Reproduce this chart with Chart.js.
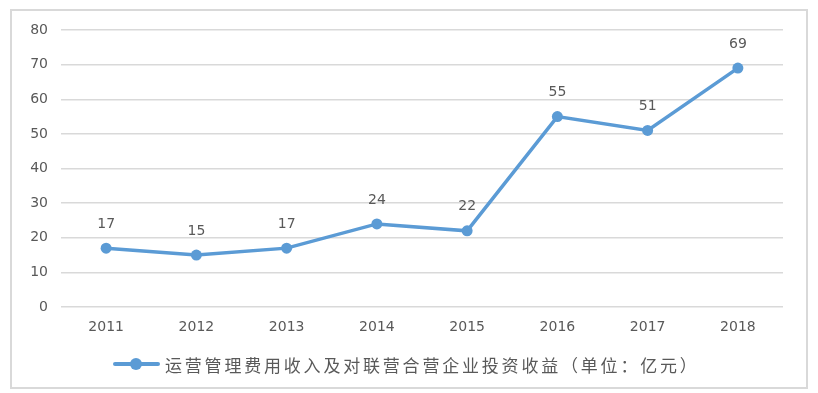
<!DOCTYPE html>
<html>
<head>
<meta charset="utf-8">
<script src="https://cdn.jsdelivr.net/npm/chart.js@4/dist/chart.umd.min.js"></script>
<style>
  body { margin: 0; background: #fff; }
  #wrap { position: relative; width: 818px; height: 393px; }
  #frame { position: absolute; left: 10px; top: 9px; width: 794px; height: 376px; border: 2px solid #d9d9d9; pointer-events: none; }
  #legend { position: absolute; left: 113px; top: 352px; height: 24px; display: flex; align-items: center; }
  #legend .mark { position: relative; width: 47px; height: 24px; margin-right: 5px; }
  #legend .mark .ln { position: absolute; left: 0; right: 0; top: 10px; height: 4px; background: #5b9bd5; border-radius: 2px; }
  #legend .mark .dot { position: absolute; left: 17px; top: 6px; width: 12px; height: 12px; border-radius: 50%; background: #5b9bd5; }
  #legend .txt { font-family: "Noto Sans CJK SC", sans-serif; font-size: 17px; letter-spacing: 2.8px; color: #595959; }
</style>
</head>
<body>
<div id="wrap">
  <canvas id="chart" width="818" height="393"></canvas>
  <div id="frame"></div>
  <div id="legend"><div class="mark"><div class="ln"></div><div class="dot"></div></div><span class="txt" id="legend-text"></span></div>
</div>
<script>
// chart data
const years = ['2011', '2012', '2013', '2014', '2015', '2016', '2017', '2018'];
const income = [17, 15, 17, 24, 22, 55, 51, 69];
const seriesName = '运营管理费用收入及对联营合营企业投资收益（单位：亿元）';
const yTicks = [0, 10, 20, 30, 40, 50, 60, 70, 80];

const blue = '#5b9bd5';
const textGray = '#595959';

document.getElementById('legend-text').textContent = seriesName;

// value labels above each point
const pointLabels = {
  id: 'pointLabels',
  afterDatasetsDraw(chart) {
    const ctx = chart.ctx;
    const meta = chart.getDatasetMeta(0);
    ctx.save();
    ctx.font = '14px "DejaVu Sans"';
    ctx.fillStyle = textGray;
    ctx.textAlign = 'center';
    ctx.textBaseline = 'middle';
    meta.data.forEach((pt, i) => {
      ctx.fillText(String(income[i]), pt.x, pt.y - 24);
    });
    ctx.restore();
  }
};

new Chart(document.getElementById('chart'), {
  type: 'line',
  data: {
    labels: years,
    datasets: [{
      label: seriesName,
      data: income,
      borderColor: blue,
      backgroundColor: blue,
      borderWidth: 3.5,
      pointRadius: 5.5,
      pointHoverRadius: 5.5,
      pointBackgroundColor: blue,
      pointBorderWidth: 0,
      tension: 0
    }]
  },
  options: {
    responsive: false,
    animation: false,
    layout: { padding: { top: 30, right: 35, bottom: 46, left: 0 } },
    plugins: { legend: { display: false }, tooltip: { enabled: false } },
    scales: {
      x: {
        offset: true,
        grid: { display: false, drawTicks: false },
        border: { display: false },
        ticks: { color: textGray, font: { family: 'DejaVu Sans', size: 14 }, padding: 12 },
        afterFit(axis) { axis.height = 40; }
      },
      y: {
        min: 0,
        max: 80,
        afterBuildTicks(axis) { axis.ticks = yTicks.map(v => ({ value: v })); },
        grid: { color: '#d9d9d9', lineWidth: 1.5, drawTicks: false },
        border: { display: false },
        ticks: { color: textGray, font: { family: 'DejaVu Sans', size: 14 }, padding: 13 },
        afterFit(axis) { axis.width = 61; }
      }
    }
  },
  plugins: [pointLabels]
});
</script>
</body>
</html>
